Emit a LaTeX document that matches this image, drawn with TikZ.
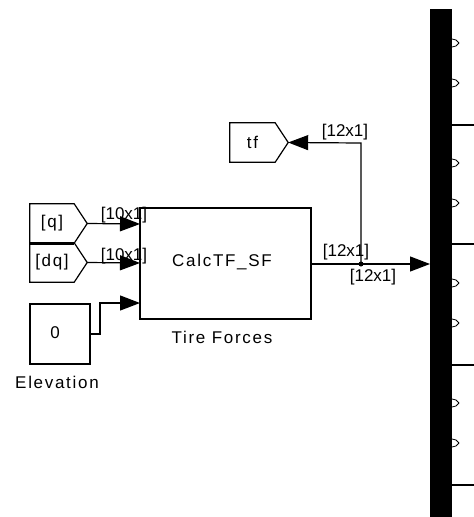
\documentclass[tikz,border=0pt]{standalone}
\usepackage{fontspec}
\setmainfont{Liberation Sans}
\newfontfamily\widefont[LetterSpace=10]{Liberation Sans}
\usetikzlibrary{arrows.meta}
\begin{document}
\begin{tikzpicture}[x=1pt,y=-1pt,
  wire/.style={line width=1.2pt},
  sig/.style={wire,-{Triangle[length=20pt,width=15pt]}},
  blk/.style={draw,line width=1.2pt,inner sep=0pt},
  lbl/.style={inner sep=0pt,font=\fontsize{17}{20}\selectfont},
  blktxt/.style={inner sep=0pt,font=\widefont\fontsize{17}{20}\selectfont},
  frombox/.style={inner sep=0pt,minimum width=44pt,minimum height=39pt,font=\widefont\fontsize{17}{20}\selectfont}
]
\useasboundingbox (0,0) rectangle (474,517);
\fill[white] (0,0) rectangle (474,517);

% From blocks [q] and [dq]
\node[frombox] (q) at (52,223.5) {[q]};
\node[frombox] (dq) at (52,262.5) {[dq]};
\coordinate (qtip) at ([xshift=13pt]q.east);
\coordinate (dqtip) at ([xshift=13pt]dq.east);
\draw[wire,line join=miter] (q.south west) -- (q.north west) -- (q.north east) -- (qtip) -- (q.south east);
\draw[wire,line join=miter] (dq.north west) -- (dq.south west) -- (dq.south east) -- (dqtip) -- (dq.north east);
\draw[line width=2.6pt] (q.south west) -- (q.south east);

% Constant block
\node[blk,minimum width=60pt,minimum height=60pt] (const) at (60,334) {};
\node[blktxt] (zero) at (55,333) {0};
\node[blktxt] (elev) at (57,382) {Elevation};

% Main subsystem block
\node[blk,minimum width=171pt,minimum height=111pt] (calc) at (225.5,263.5) {};
\node[blktxt] (calctxt) at (222,262) {CalcTF\_SF};
\node[blktxt] (tire) at (222,337) {Tire Forces};

\coordinate (in1) at (140,224);
\coordinate (in2) at (140,263);
\coordinate (in3) at (140,303);
\coordinate (out1) at (311,264);

% tf goto block
\node[frombox,minimum width=45pt] (tf) at (252.5,142.5) {tf};
\coordinate (tftip) at ([xshift=13pt]tf.east);
\draw[wire,line join=miter] (tf.north east) -- (tf.north west) -- (tf.south west) -- (tf.south east) -- (tftip) -- cycle;

% Bus bar
\fill (430,9) rectangle (452,517);
\coordinate (busin) at (430,264);
\foreach \yy in {125,244,365,485} { \draw[wire] (452,\yy) -- (474,\yy); }
\foreach \yy in {43,83,163,203,283,323,403,443} {
  \draw[line width=0.8pt,line join=round] (452,\yy-4) -- (456,\yy-3) -- (459,\yy) -- (456,\yy+3) -- (452,\yy+4);
}

% Junction
\coordinate (junc) at (361,264);
\fill (junc) circle (2.5pt);

% Connectors
\draw[sig] (qtip) -- (in1);
\draw[sig] (dqtip) -- (in2);
\draw[sig] (const.east) -- (100,334) -- (100,303) -- (in3);
\draw[sig] (out1) -- (busin);
\draw[sig] (junc) -- (361,143) -- (tftip);

% Signal labels
\node[lbl] (l1) at (124,215) {[10x1]};
\node[lbl] (l2) at (124,256) {[10x1]};
\node[lbl] (l3) at (345,132) {[12x1]};
\node[lbl] (l4) at (346,252) {[12x1]};
\node[lbl] (l5) at (373,277) {[12x1]};
\end{tikzpicture}
\end{document}
